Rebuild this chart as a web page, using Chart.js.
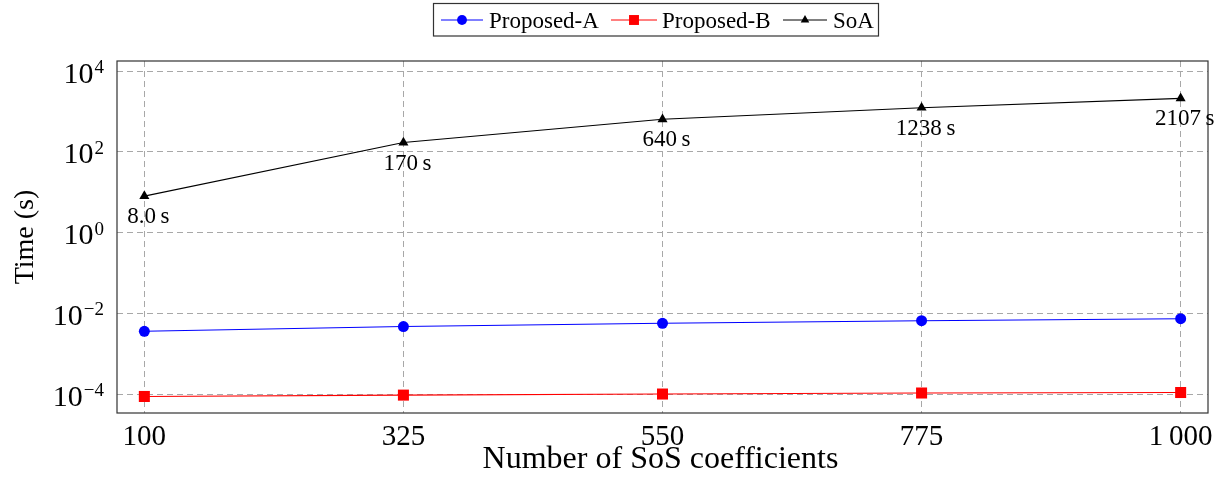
<!DOCTYPE html>
<html>
<head>
<meta charset="utf-8">
<script src="https://cdn.jsdelivr.net/npm/chart.js@4/dist/chart.umd.min.js"></script>
<style>
  html, body { margin: 0; padding: 0; background: #fff; }
  #wrap { width: 1224px; height: 485px; }
</style>
</head>
<body>
<div id="wrap"><canvas id="c" width="1224" height="485"></canvas></div>
<script>
// Runtime versus number of SoS coefficients
const coefficients = [100, 325, 550, 775, 1000];
const proposedA = [0.00358, 0.0047, 0.00566, 0.00656, 0.00735];
const proposedB = [8.7e-5, 9.4e-5, 1.0e-4, 1.06e-4, 1.09e-4];
const soa = [8.0, 170, 640, 1238, 2107];
const soaLabels = ['8.0\u2009s', '170\u2009s', '640\u2009s', '1238\u2009s', '2107\u2009s'];
const xTickLabels = ['100', '325', '550', '775', '1\u2009000'];
const yTickExponents = [-4, -2, 0, 2, 4];
const seriesNames = ['Proposed-A', 'Proposed-B', 'SoA'];
const seriesColors = ['#0000ff', '#ff0000', '#000000'];
const seriesMarkers = ['circle', 'rect', 'triangle'];
const xTitle = 'Number of SoS coefficients';
const yTitle = 'Time (s)';

const FONT = '"Liberation Serif", "Times New Roman", serif';

function points(values) {
  return coefficients.map((c, i) => ({ x: c, y: values[i] }));
}

function markerRadius(style) {
  return style === 'rect' ? 7.8 : (style === 'triangle' ? 5.8 : 5.5);
}

// Frame, tick labels, axis titles, value labels and the boxed legend
const decorations = {
  id: 'decorations',
  afterDraw(chart) {
    const { ctx, chartArea: a, scales: { x, y } } = chart;
    ctx.save();

    // plot frame
    ctx.setLineDash([]);
    ctx.strokeStyle = '#333';
    ctx.lineWidth = 1.2;
    ctx.strokeRect(a.left, a.top, a.right - a.left, a.bottom - a.top);

    ctx.fillStyle = '#000';

    // y tick labels: 10 with a raised exponent
    ctx.textBaseline = 'alphabetic';
    ctx.textAlign = 'right';
    const labelRight = a.left - 13;
    yTickExponents.forEach(e => {
      const py = y.getPixelForValue(Math.pow(10, e));
      const exp = e < 0 ? '\u2212' + Math.abs(e) : String(e);
      ctx.font = '19px ' + FONT;
      ctx.fillText(exp, labelRight, py + 2);
      const w = ctx.measureText(exp).width;
      ctx.font = '30px ' + FONT;
      ctx.fillText('10', labelRight - w - 1, py + 11.5);
    });

    // x tick labels
    ctx.textAlign = 'center';
    ctx.font = '29px ' + FONT;
    coefficients.forEach((c, i) => {
      ctx.fillText(xTickLabels[i], x.getPixelForValue(c), a.bottom + 32);
    });

    // axis titles
    ctx.font = '32px ' + FONT;
    ctx.fillText(xTitle, (a.left + a.right) / 2 - 2, 468);
    ctx.save();
    ctx.translate(33, (a.top + a.bottom) / 2);
    ctx.rotate(-Math.PI / 2);
    ctx.font = '28px ' + FONT;
    ctx.fillText(yTitle, 0, 0);
    ctx.restore();

    // value labels under the SoA points
    ctx.font = '23px ' + FONT;
    const meta = chart.getDatasetMeta(2);
    meta.data.forEach((pt, i) => {
      ctx.fillText(soaLabels[i], pt.x + 4, pt.y + 27);
    });

    // legend
    const lx = 433.5, ly = 3.5, lw = 445, lh = 32.5;
    ctx.fillStyle = '#fff';
    ctx.fillRect(lx, ly, lw, lh);
    ctx.strokeStyle = '#333';
    ctx.lineWidth = 1.2;
    ctx.strokeRect(lx, ly, lw, lh);
    const entries = [
      { x0: 441, x1: 483, text: 489 },
      { x0: 611, x1: 657, text: 662 },
      { x0: 783, x1: 827, text: 833 }
    ];
    const cy = 20;
    ctx.font = '23px ' + FONT;
    ctx.textAlign = 'left';
    entries.forEach((en, i) => {
      ctx.strokeStyle = seriesColors[i];
      ctx.lineWidth = 1;
      ctx.beginPath();
      ctx.moveTo(en.x0, cy);
      ctx.lineTo(en.x1, cy);
      ctx.stroke();
      ctx.fillStyle = seriesColors[i];
      Chart.helpers.drawPoint(ctx, {
        pointStyle: seriesMarkers[i],
        radius: markerRadius(seriesMarkers[i]) * (i === 2 ? 0.85 : 0.9),
        borderWidth: 0,
        rotation: 0
      }, (en.x0 + en.x1) / 2, cy);
      ctx.fillStyle = '#000';
      ctx.fillText(seriesNames[i], en.text, cy + 7.5);
    });

    ctx.restore();
  }
};

const datasets = [proposedA, proposedB, soa].map((vals, i) => ({
  label: seriesNames[i],
  data: points(vals),
  borderColor: seriesColors[i],
  backgroundColor: seriesColors[i],
  borderWidth: 1.1,
  pointStyle: seriesMarkers[i],
  pointRadius: markerRadius(seriesMarkers[i]),
  pointBorderWidth: 0,
  pointBackgroundColor: seriesColors[i],
  tension: 0,
  clip: false
}));

new Chart(document.getElementById('c'), {
  type: 'line',
  data: { datasets },
  options: {
    responsive: false,
    animation: false,
    events: [],
    layout: { padding: { top: 61, right: 16, left: 0, bottom: 0 } },
    plugins: { legend: { display: false }, tooltip: { enabled: false } },
    scales: {
      x: {
        type: 'linear',
        min: 76.25,
        max: 1023.75,
        afterBuildTicks: s => { s.ticks = coefficients.map(v => ({ value: v })); },
        afterFit: s => { s.height = 72; },
        ticks: { display: false },
        grid: { color: '#a8a8a8', lineWidth: 1, drawTicks: false },
        border: { display: false, dash: [6, 4] }
      },
      y: {
        type: 'logarithmic',
        min: Math.pow(10, -4.47),
        max: Math.pow(10, 4.25),
        afterBuildTicks: s => { s.ticks = yTickExponents.map(e => ({ value: Math.pow(10, e) })); },
        afterFit: s => { s.width = 117; },
        ticks: { display: false },
        grid: { color: '#a8a8a8', lineWidth: 1, drawTicks: false },
        border: { display: false, dash: [6, 4] }
      }
    }
  },
  plugins: [decorations]
});
</script>
</body>
</html>
